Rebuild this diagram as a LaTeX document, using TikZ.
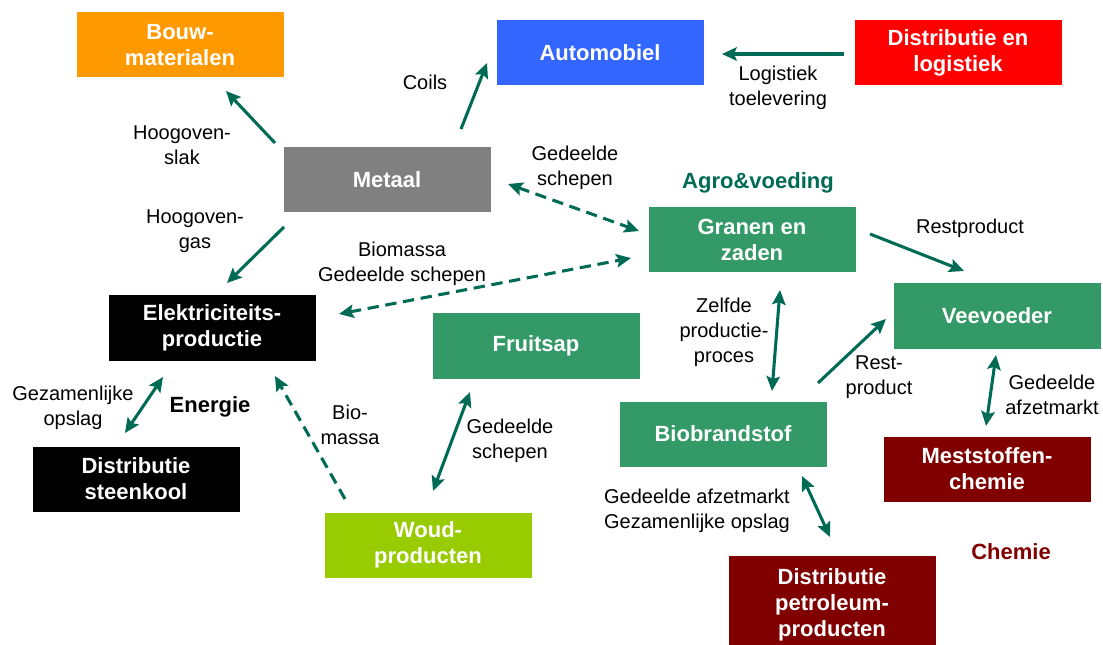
\documentclass[tikz,border=0pt]{standalone}
\usepackage{fontspec}
\setmainfont{Liberation Sans}
\usetikzlibrary{arrows.meta}
\definecolor{arr}{HTML}{006B54}
\definecolor{cOrange}{HTML}{FF9900}
\definecolor{cBlue}{HTML}{3366FF}
\definecolor{cRed}{HTML}{FF0000}
\definecolor{cGrey}{HTML}{808080}
\definecolor{cGreen}{HTML}{339966}
\definecolor{cLime}{HTML}{99CC00}
\definecolor{cDark}{HTML}{800000}
\begin{document}
\begin{tikzpicture}[x=0.75pt,y=-0.75pt,
  box/.style={minimum width=155.25pt, minimum height=48.75pt, inner sep=0pt, text=white,
    font=\fontsize{16.5}{19.5}\selectfont\bfseries, align=center},
  lbl/.style={font=\fontsize{15}{18.75}\selectfont, align=center, inner sep=0pt},
  grp/.style={font=\fontsize{16.5}{19.5}\selectfont\bfseries, inner sep=0pt},
  con/.style={draw=arr, line width=2.3pt},
  dsh/.style={con, dash pattern=on 8.5pt off 5pt},
  >={Stealth[length=11pt,width=10pt,inset=2pt]}
]
\useasboundingbox (0,0) rectangle (1103,645);
\begin{scope}
\clip (0,0) rectangle (1103,645);
% boxes
\node[box, fill=cOrange] (bouw) at (180,45) {Bouw-\\materialen};
\node[box, fill=cBlue] (auto) at (600,53) {Automobiel};
\node[box, fill=cRed] (distlog) at (958,53) {Distributie en\\logistiek};
\node[box, fill=cGrey] (metaal) at (387,180) {Metaal};
\node[box, fill=cGreen] (granen) at (752,240) {Granen en\\zaden};
\node[box, fill=cGreen] (vee) at (997,316) {Veevoeder};
\node[box, fill=black] (elek) at (212,328) {Elektriciteits-\\productie};
\node[box, fill=cGreen] (fruit) at (536,346) {Fruitsap};
\node[box, fill=cGreen] (bio) at (723,434) {Biobrandstof};
\node[box, fill=black] (steen) at (136,479) {Distributie\\steenkool};
\node[box, fill=cDark] (mest) at (987,469) {Meststoffen-\\chemie};
\node[box, fill=cLime] (woud) at (428,545) {Woud-\\producten};
\node[box, fill=cDark, minimum height=73.5pt] (petro) at (832,605) {Distributie\\petroleum-\\producten};
\end{scope}
% group labels
\node[grp, text=arr] (agro) at (758,183) {Agro\&voeding};
\node[grp, text=black] (energie) at (210,407) {Energie};
\node[grp, text=cDark] (chemie) at (1011,552) {Chemie};
% connector labels
\node[lbl] (lcoils) at (425,82) {Coils};
\node[lbl] (lslak) at (182,145) {Hoogoven-\\slak};
\node[lbl] (lgas) at (195,231) {Hoogoven-\\gas};
\node[lbl] (lsch1) at (575,168) {Gedeelde\\schepen};
\node[lbl] (llog) at (778,88) {Logistiek\\toelevering};
\node[lbl] (lrest1) at (970,228) {Restproduct};
\node[lbl] (lbio1) at (402,264) {Biomassa\\Gedeelde schepen};
\node[lbl] (lzelf) at (724,332) {Zelfde\\productie-\\proces};
\node[lbl] (lrest2) at (879,377) {Rest-\\product};
\node[lbl] (lafz) at (1052,395) {Gedeelde\\afzetmarkt};
\node[lbl] (lgez) at (73,408) {Gezamenlijke\\opslag};
\node[lbl] (lbio2) at (350,425) {Bio-\\massa};
\node[lbl] (lsch2) at (510,441) {Gedeelde\\schepen};
\node[lbl] (lafz2) at (697,511) {Gedeelde afzetmarkt\\Gezamenlijke opslag};
% connector end points
\coordinate (a1s) at (275,143); \coordinate (a1e) at (226,91);
\coordinate (a2s) at (461,129); \coordinate (a2e) at (487,63);
\coordinate (a3s) at (844,54);  \coordinate (a3e) at (722,54);
\coordinate (a4s) at (284,227); \coordinate (a4e) at (227,283);
\coordinate (a5s) at (508,184); \coordinate (a5e) at (639,231);
\coordinate (a6s) at (339,314); \coordinate (a6e) at (631,258);
\coordinate (a7s) at (870,234); \coordinate (a7e) at (964,271);
\coordinate (a8s) at (780,290); \coordinate (a8e) at (772,391);
\coordinate (a9s) at (818,383); \coordinate (a9e) at (886,319);
\coordinate (a10s) at (996,355); \coordinate (a10e) at (986,426);
\coordinate (a11s) at (163,377); \coordinate (a11e) at (125,433);
\coordinate (a12s) at (345,499); \coordinate (a12e) at (275,376);
\coordinate (a13s) at (470,392); \coordinate (a13e) at (433,491);
\coordinate (a14s) at (802,476); \coordinate (a14e) at (830,537);
% connectors
\draw[con, ->] (a1s) -- (a1e);
\draw[con, ->] (a2s) -- (a2e);
\draw[con, ->] (a3s) -- (a3e);
\draw[con, ->] (a4s) -- (a4e);
\draw[dsh, <->] (a5s) -- (a5e);
\draw[dsh, <->] (a6s) -- (a6e);
\draw[con, ->] (a7s) -- (a7e);
\draw[con, <->] (a8s) -- (a8e);
\draw[con, ->] (a9s) -- (a9e);
\draw[con, <->] (a10s) -- (a10e);
\draw[con, <->] (a11s) -- (a11e);
\draw[dsh, ->] (a12s) -- (a12e);
\draw[con, <->] (a13s) -- (a13e);
\draw[con, <->] (a14s) -- (a14e);
\end{tikzpicture}
\end{document}
